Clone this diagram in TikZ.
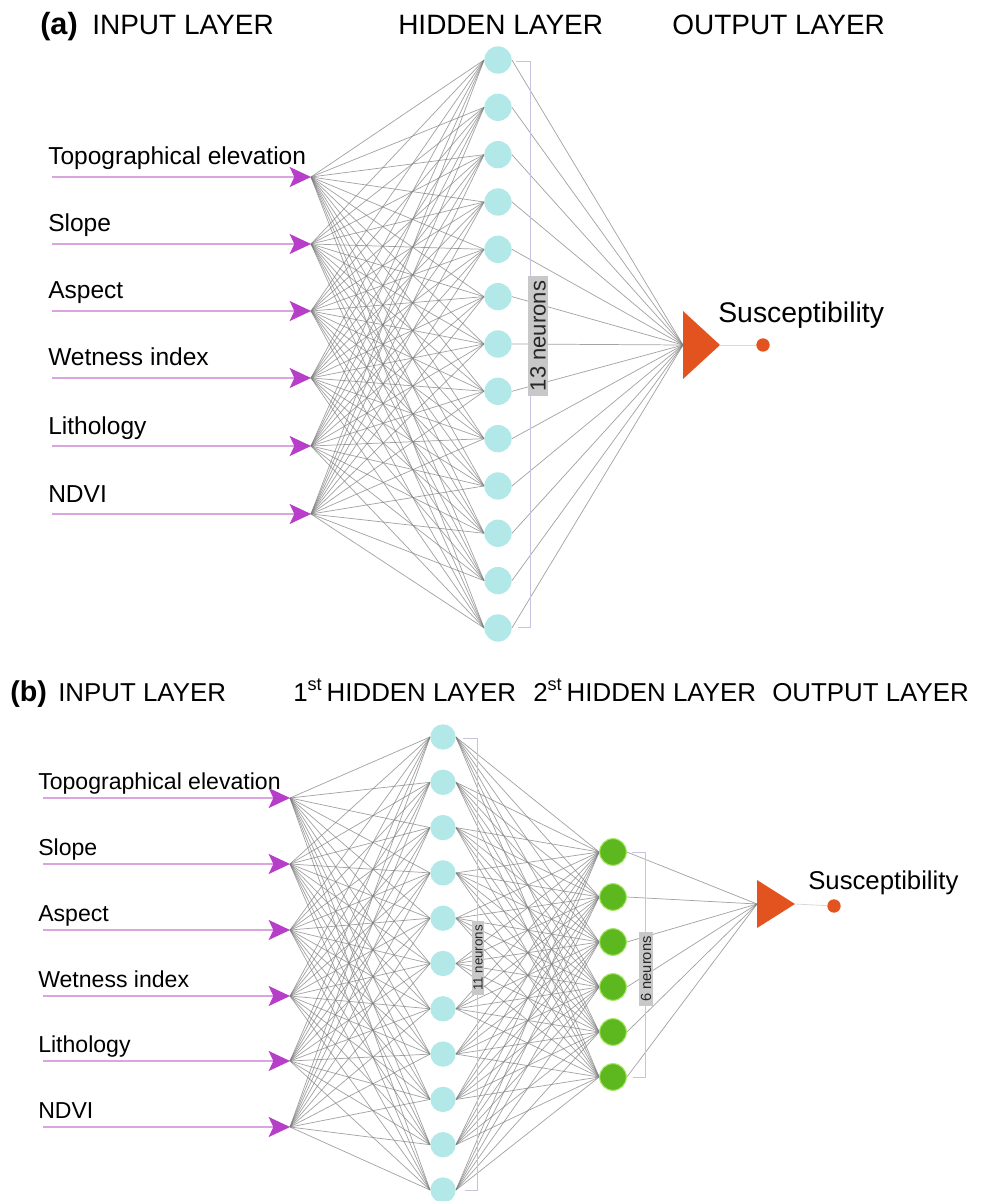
\documentclass[tikz,border=0pt]{standalone}
\usepackage{fontspec}
\setmainfont{Liberation Sans}
\usetikzlibrary{arrows.meta}
\pgfdeclarelayer{bg}
\pgfsetlayers{bg,main}
\definecolor{wirec}{RGB}{125,125,125}
\definecolor{feedc}{RGB}{218,165,222}
\definecolor{feedhead}{RGB}{182,62,200}
\definecolor{cyanunit}{RGB}{178,232,232}
\definecolor{greenunit}{RGB}{92,184,30}
\definecolor{greenrim}{RGB}{165,228,95}
\definecolor{outtri}{RGB}{226,83,31}
\definecolor{bracketc}{RGB}{196,196,222}
\definecolor{tagfill}{RGB}{200,200,200}
\begin{document}
\begin{tikzpicture}[x=0.75pt,y=-0.75pt,
  wire/.style={draw=wirec, line width=0.55pt, opacity=0.7},
  feedline/.style={draw=feedc, line width=1.1pt,
    -{Stealth[length=16pt,width=15pt,inset=3.5pt,color=feedhead]}},
  headA/.style={inner sep=0pt, font=\fontsize{21}{21}\selectfont},
  headB/.style={inner sep=0pt, font=\fontsize{19.4}{19.4}\selectfont},
  labA/.style={inner sep=0pt, font=\fontsize{18.4}{18.4}\selectfont},
  labB/.style={inner sep=0pt, font=\fontsize{17.3}{17.3}\selectfont},
  unitA/.style={circle, fill=cyanunit, minimum size=20.5pt, inner sep=0pt},
  unitB/.style={circle, fill=cyanunit, minimum size=19pt, inner sep=0pt},
  unitG/.style={circle, fill=greenunit, draw=greenrim, line width=0.8pt, minimum size=20pt, inner sep=0pt},
  outdot/.style={circle, fill=outtri, minimum size=10pt, inner sep=0pt},
  tail/.style={draw=black!15, line width=0.6pt},
  brace/.style={draw=bracketc, line width=0.7pt},
  tag/.style={fill=tagfill, text=black!85, rotate=90, inner xsep=4pt, inner ysep=1.5pt}
]
\useasboundingbox (0,0) rectangle (982,1201);
\clip (0,0) rectangle (982,1201);

% ---------------- (a) one hidden layer ----------------
\node[headA, font=\fontsize{23}{23}\selectfont\bfseries, anchor=base west] (ta) at (40,35) {(a)};
\node[headA, anchor=base west] (tina) at (92,35) {INPUT LAYER};
\node[headA, anchor=base west] (thia) at (398,35) {HIDDEN LAYER};
\node[headA, anchor=base west] (touta) at (672,35) {OUTPUT LAYER};

\foreach \i/\name/\y in {1/Topographical elevation/177, 2/Slope/244, 3/Aspect/311,
                         4/Wetness index/378, 5/Lithology/446, 6/NDVI/514} {
  \coordinate (sa\i) at (52,\y);
  \coordinate (ia\i) at (311,\y);
  \draw[feedline] (sa\i) -- (ia\i);
  \node[labA, anchor=base west] (la\i) at (48,{\y-12}) {\name};
}

\foreach \j in {1,...,13}
  \node[unitA] (ha\j) at (498,{60+47.33*(\j-1)}) {};

\coordinate (oa) at (683,345);
\fill[outtri] (683,311) -- (720,345) -- (683,379) -- cycle;
\coordinate (pa) at (720,345);
\node[outdot] (ra) at (763,345) {};
\draw[tail] (pa) -- (ra);
\node[inner sep=0pt, font=\fontsize{21.3}{21.3}\selectfont, anchor=base west] (sua) at (718,323) {Susceptibility};

\draw[brace] (516,61) -- (530,61) -- (530,627) -- (518,627);
\node[tag, font=\fontsize{16.5}{16.5}\selectfont] (na) at (538,336) {13 neurons};

\begin{pgfonlayer}{bg}
  \foreach \i in {1,...,6}
    \foreach \j in {1,...,13}
      \draw[wire] (ia\i) -- (ha\j.west);
  \foreach \j in {1,...,13}
    \draw[wire] (ha\j.east) -- (oa);
\end{pgfonlayer}

% ---------------- (b) two hidden layers ----------------
\node[headB, font=\fontsize{21.5}{21.5}\selectfont\bfseries, anchor=base west] (tb) at (10,701) {(b)};
\node[headB, anchor=base west] (tinb) at (58,701) {INPUT LAYER};
\node[headB, anchor=base west] (th1b) at (293,701) {1\textsuperscript{st}\,HIDDEN LAYER};
\node[headB, anchor=base west] (th2b) at (533,701) {2\textsuperscript{st}\,HIDDEN LAYER};
\node[headB, anchor=base west] (toutb) at (772,701) {OUTPUT LAYER};

\foreach \i/\name/\y in {1/Topographical elevation/798, 2/Slope/864, 3/Aspect/930,
                         4/Wetness index/996, 5/Lithology/1061, 6/NDVI/1127} {
  \coordinate (sb\i) at (43,\y);
  \coordinate (ib\i) at (290,\y);
  \draw[feedline] (sb\i) -- (ib\i);
  \node[labB, anchor=base west] (lb\i) at (38,{\y-9}) {\name};
}

\foreach \j in {1,...,11}
  \node[unitB] (hb\j) at (443,{737+45.3*(\j-1)}) {};
\foreach \k in {1,...,6}
  \node[unitG] (gb\k) at (613,{852+45*(\k-1)}) {};

\coordinate (ob) at (757,904);
\fill[outtri] (757,880) -- (795,904) -- (757,928) -- cycle;
\coordinate (pb) at (795,904);
\node[outdot] (rb) at (834,906) {};
\draw[tail] (pb) -- (rb);
\node[inner sep=0pt, font=\fontsize{19.3}{19.3}\selectfont, anchor=base west] (sub) at (808,889) {Susceptibility};

\draw[brace] (463,738) -- (477,738) -- (477,1190) -- (465,1190);
\node[tag, font=\fontsize{10}{10}\selectfont, inner xsep=3pt, inner ysep=1pt] (nb1) at (478,958) {11 neurons};
\draw[brace] (632,852) -- (645,852) -- (645,1077) -- (633,1077);
\node[tag, font=\fontsize{11}{11}\selectfont, inner xsep=3pt, inner ysep=1pt] (nb2) at (646,969) {6 neurons};

\begin{pgfonlayer}{bg}
  \foreach \i in {1,...,6}
    \foreach \j in {1,...,11}
      \draw[wire] (ib\i) -- (hb\j.west);
  \foreach \j in {1,...,11}
    \foreach \k in {1,...,6}
      \draw[wire] (hb\j.east) -- (gb\k.west);
  \foreach \k in {1,...,6}
    \draw[wire] (gb\k.east) -- (ob);
\end{pgfonlayer}
\end{tikzpicture}
\end{document}
